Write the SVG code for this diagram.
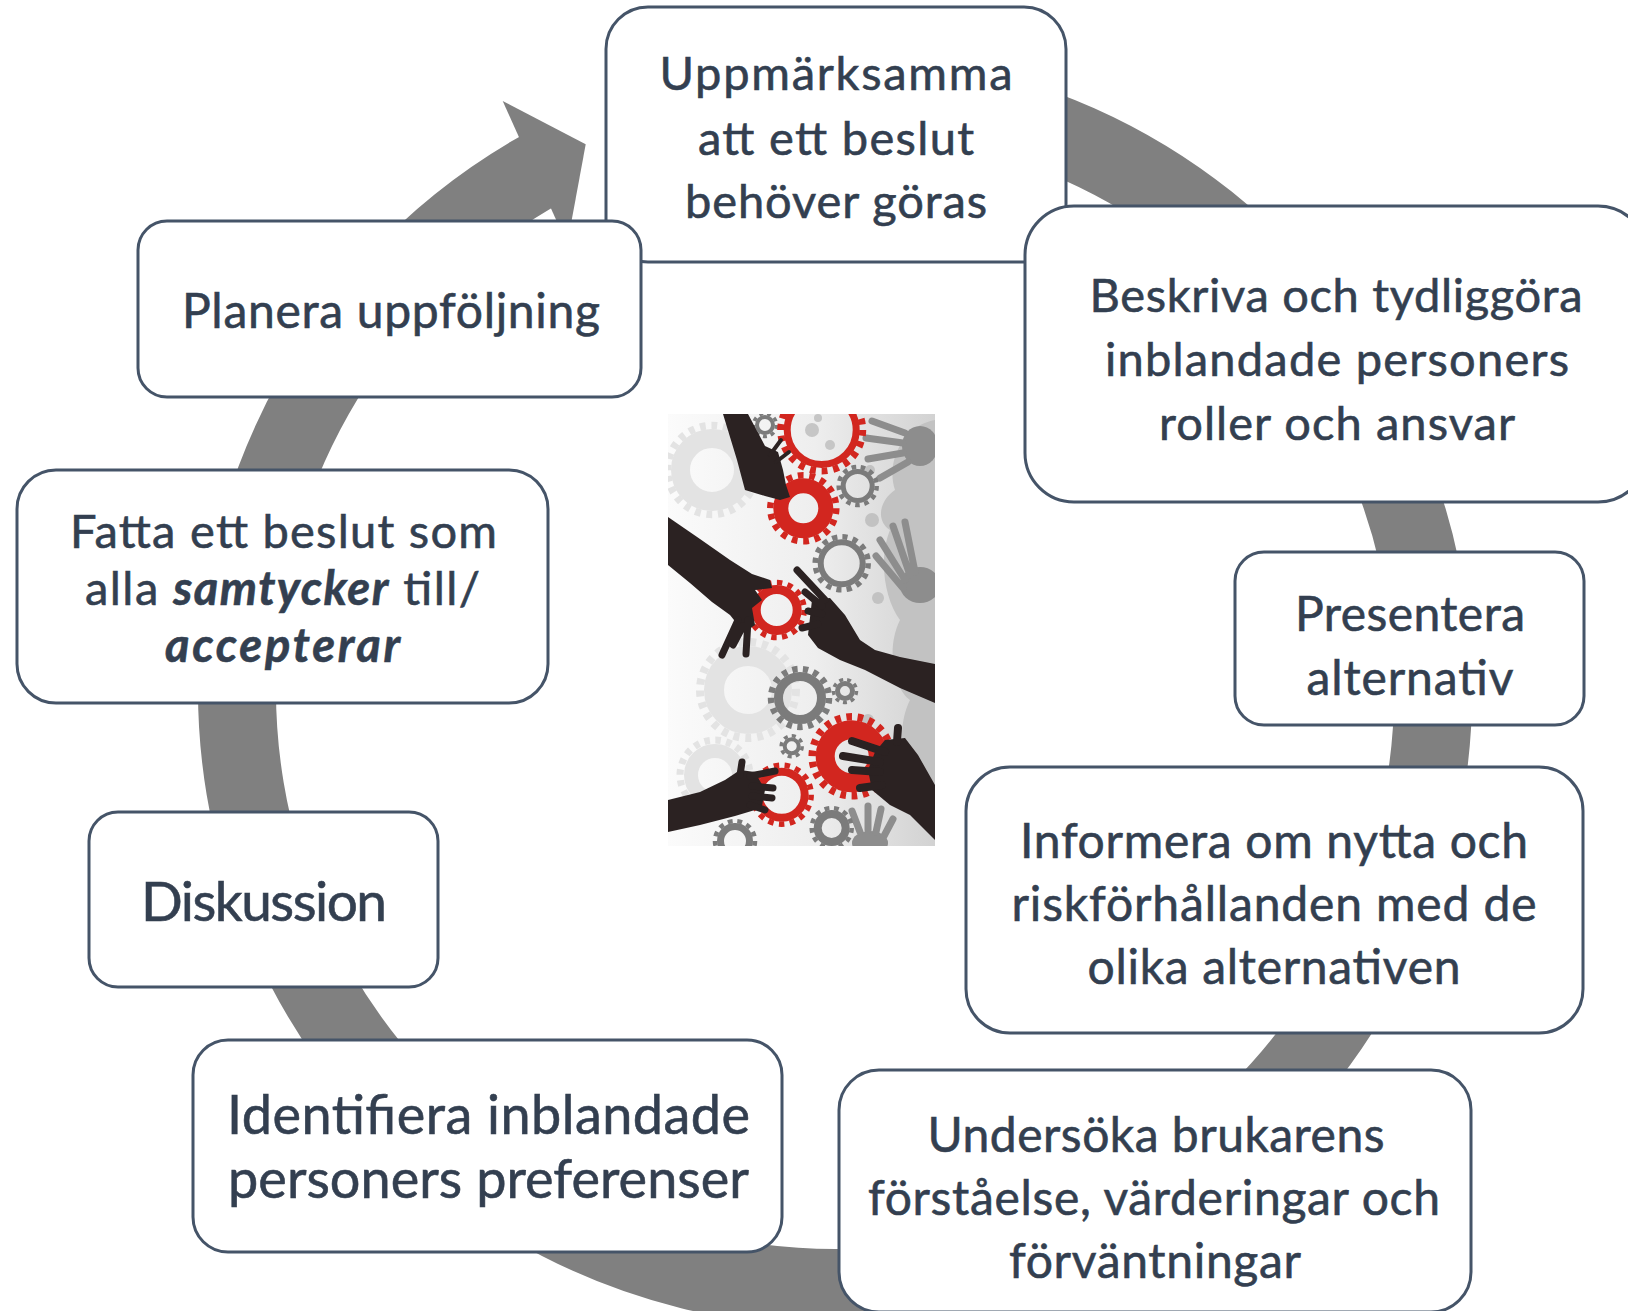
<svg xmlns="http://www.w3.org/2000/svg" width="1628" height="1311" viewBox="0 0 1628 1311">
<defs>
<style>
.box{fill:#ffffff;stroke:#455468;stroke-width:3}
.t{font-family:Lato,"Noto Sans","DejaVu Sans",sans-serif;fill:#333f50;stroke:#333f50;stroke-width:0.6;text-anchor:middle}
.bi{font-weight:bold;font-style:italic}
.ring{fill:none;stroke:#808080;stroke-width:78}
.head{fill:#808080}
.red{fill:none;stroke:#d2261f}
.gry{fill:none;stroke:#7b7b7b}
.fnt{fill:none;stroke:#e3e3e3}
.hand{fill:#2b2222}
.fing{fill:none;stroke:#2b2222;stroke-linecap:round}
.ghand{fill:#8d8d8d}
.gfing{fill:none;stroke:#8d8d8d;stroke-linecap:round;stroke-width:7}
.spl{fill:#c2c2c2}
</style>
<linearGradient id="bg" x1="0" y1="0" x2="1" y2="0">
<stop offset="0" stop-color="#fbfbfb"/>
<stop offset="0.55" stop-color="#eeeeee"/>
<stop offset="1" stop-color="#d2d2d2"/>
</linearGradient>
<clipPath id="imgclip"><rect x="668" y="414" width="267" height="432"/></clipPath>
</defs>
<rect x="0" y="0" width="1628" height="1311" fill="#ffffff"/>

<g id="connectors">
<path class="ring" d="M 814.1 92.4 A 598 598 0 1 1 545.1 167.0"/>
<polygon class="head" points="502.7,101 585.7,144.3 567.2,244.5"/>
</g>

<g id="picture" clip-path="url(#imgclip)">
<rect x="668" y="414" width="267" height="432" fill="url(#bg)"/>
<circle class="fnt" cx="712" cy="470" r="44.5" stroke-width="7.5" stroke-dasharray="5.8 5.8"/>
<circle class="fnt" cx="712" cy="470" r="31.5" stroke-width="19"/>
<circle class="fnt" cx="748" cy="690" r="48" stroke-width="8" stroke-dasharray="6 6"/>
<circle class="fnt" cx="748" cy="690" r="34" stroke-width="20"/>
<circle class="fnt" cx="715" cy="775" r="35" stroke-width="7" stroke-dasharray="5.5 5.5"/>
<circle class="fnt" cx="715" cy="775" r="24" stroke-width="14"/>
<path class="spl" d="M935 420 C905 425 885 460 895 490 C880 500 875 520 890 530 C878 560 885 600 900 620 C885 650 895 690 910 700 C895 730 900 780 935 800 Z"/>
<circle class="spl" cx="872" cy="520" r="7"/>
<circle class="spl" cx="878" cy="598" r="6"/>
<circle class="spl" cx="868" cy="720" r="6"/>
<circle class="spl" cx="885" cy="660" r="5"/>
<circle class="spl" cx="870" cy="470" r="5"/>
<circle fill="#c6c6c6" cx="812" cy="430" r="7"/>
<circle fill="#c6c6c6" cx="830" cy="445" r="5"/>
<circle fill="#c6c6c6" cx="818" cy="418" r="4"/>
<ellipse class="ghand" cx="920" cy="446" rx="18" ry="20"/>
<path class="gfing" d="M905 433 L872 421 M903 443 L866 438 M903 453 L868 459 M908 462 L880 478"/>
<ellipse class="ghand" cx="920" cy="585" rx="20" ry="18"/>
<path class="gfing" d="M915 572 L905 522 M910 575 L893 526 M905 580 L880 540 M903 588 L876 556"/>
<ellipse class="ghand" cx="870" cy="843" rx="18" ry="12"/>
<path class="gfing" d="M860 832 L852 811 M868 830 L868 806 M876 832 L881 809 M884 836 L893 819"/>
<circle class="gry" cx="765" cy="425" r="11.5" stroke-width="3.5" stroke-dasharray="4 4" stroke="#9a9a9a"/>
<circle class="gry" cx="765" cy="425" r="8" stroke-width="4" stroke="#9a9a9a"/>
<circle class="gry" cx="857.7" cy="486" r="19" stroke-width="4.5" stroke-dasharray="4.6 4.6"/>
<circle class="gry" cx="857.7" cy="486" r="14.5" stroke-width="5"/>
<circle class="gry" cx="841.7" cy="563.3" r="26.5" stroke-width="5.5" stroke-dasharray="5.2 5.2"/>
<circle class="gry" cx="841.7" cy="563.3" r="21" stroke-width="6"/>
<circle class="gry" cx="800" cy="698" r="29" stroke-width="6.5" stroke-dasharray="5.36 5.36"/>
<circle class="gry" cx="800" cy="698" r="21.5" stroke-width="9"/>
<circle class="gry" cx="845" cy="691" r="11.5" stroke-width="3.5" stroke-dasharray="4 4"/>
<circle class="gry" cx="845" cy="691" r="7.5" stroke-width="5"/>
<circle class="gry" cx="791.7" cy="746.3" r="10.5" stroke-width="3.5" stroke-dasharray="4.1 4.1"/>
<circle class="gry" cx="791.7" cy="746.3" r="7" stroke-width="4"/>
<circle class="gry" cx="831.7" cy="828" r="20" stroke-width="4.5" stroke-dasharray="4.8 4.8"/>
<circle class="gry" cx="831.7" cy="828" r="14" stroke-width="8"/>
<circle class="gry" cx="735" cy="841" r="20" stroke-width="4.5" stroke-dasharray="4.8 4.8"/>
<circle class="gry" cx="735" cy="841" r="14.5" stroke-width="7"/>
<circle class="red" cx="821.7" cy="430" r="41" stroke-width="7" stroke-dasharray="5.85 5.85"/>
<circle class="red" cx="821.7" cy="430" r="34.5" stroke-width="7"/>
<circle class="red" cx="803.3" cy="508.3" r="33" stroke-width="6.5" stroke-dasharray="5.76 5.76"/>
<circle class="red" cx="803.3" cy="508.3" r="22.5" stroke-width="15"/>
<circle class="red" cx="776.7" cy="610" r="27.5" stroke-width="5.5" stroke-dasharray="5.4 5.4"/>
<circle class="red" cx="776.7" cy="610" r="20.5" stroke-width="9"/>
<circle class="red" cx="851.7" cy="756.3" r="39.5" stroke-width="7.5" stroke-dasharray="5.64 5.64"/>
<circle class="red" cx="851.7" cy="756.3" r="26.5" stroke-width="19"/>
<circle class="red" cx="781.7" cy="794.7" r="29.5" stroke-width="5.5" stroke-dasharray="5.45 5.45"/>
<circle class="red" cx="781.7" cy="794.7" r="23" stroke-width="8"/>
<polygon class="hand" points="723,414 748,414 765,446 778,452 783,470 786,485 790,497 780,500 765,496 745,490 737,460"/>
<path class="fing" stroke-width="4" d="M770 455 L781 440 M776 462 L789 452"/>
<polygon class="hand" points="668,517 700,539 730,560 752,574 770,580 772,588 755,590 762,600 752,608 755,625 745,632 738,625 730,615 712,602 690,583 668,565"/>
<path class="fing" stroke-width="7" d="M748 620 L746 654 M738 620 L722 655 M743 626 L733 645"/>
<polygon class="hand" points="812,600 830,598 845,615 860,640 875,650 900,657 935,664 935,703 900,688 865,670 840,660 818,648 808,635"/>
<path class="fing" stroke-width="7" d="M825 600 L797 570 M822 606 L805 592 M822 614 L808 611 M818 624 L802 628"/>
<polygon class="hand" points="885,740 905,738 918,755 935,785 935,840 910,815 890,805 872,790 868,770 875,752"/>
<path class="fing" stroke-width="8" d="M885 752 L852 741 M880 762 L843 756 M880 772 L852 770 M882 785 L860 788 M897 742 L898 728"/>
<polygon class="hand" points="668,800 700,792 725,780 740,770 755,772 765,790 762,806 755,810 735,816 700,825 668,832"/>
<path class="fing" stroke-width="7" d="M750 776 L775 771 M752 786 L773 788 M752 796 L772 798 M750 805 L765 810 M740 775 L742 762"/>
</g>

<g id="node-uppmarksamma">
<rect class="box" x="606" y="7" width="460" height="255" rx="42"/>
<text class="t" font-size="47"><tspan x="836" y="90" textLength="353">Uppmärksamma</tspan><tspan x="836" y="155" textLength="276">att ett beslut</tspan><tspan x="836" y="218" textLength="302">behöver göras</tspan></text>
</g>

<g id="node-planera">
<rect class="box" x="138" y="221" width="503" height="176" rx="29"/>
<text class="t" font-size="48" x="391" y="328" textLength="418">Planera uppföljning</text>
</g>

<g id="node-beskriva">
<rect class="box" x="1025" y="206" width="622" height="296" rx="49"/>
<text class="t" font-size="47"><tspan x="1336" y="312" textLength="493">Beskriva och tydliggöra</tspan><tspan x="1337" y="376" textLength="464">inblandade personers</tspan><tspan x="1337" y="440" textLength="356">roller och ansvar</tspan></text>
</g>

<g id="node-presentera">
<rect class="box" x="1235" y="552" width="349" height="173" rx="29"/>
<text class="t" font-size="48"><tspan x="1410" y="631" textLength="230">Presentera</tspan><tspan x="1410" y="695" textLength="207">alternativ</tspan></text>
</g>

<g id="node-informera">
<rect class="box" x="966" y="767" width="617" height="266" rx="44"/>
<text class="t" font-size="48"><tspan x="1274" y="858" textLength="508">Informera om nytta och</tspan><tspan x="1274" y="921" textLength="525">riskförhållanden med de</tspan><tspan x="1274" y="984" textLength="373">olika alternativen</tspan></text>
</g>

<g id="node-undersoka">
<rect class="box" x="839" y="1070" width="632" height="242" rx="40"/>
<text class="t" font-size="48"><tspan x="1156" y="1152" textLength="457">Undersöka brukarens</tspan><tspan x="1154" y="1215" textLength="572">förståelse, värderingar och</tspan><tspan x="1155" y="1278" textLength="292">förväntningar</tspan></text>
</g>

<g id="node-identifiera">
<rect class="box" x="193" y="1040" width="589" height="212" rx="35"/>
<text class="t" font-size="54"><tspan x="488.5" y="1134" textLength="523">Identifiera inblandade</tspan><tspan x="488.5" y="1198" textLength="521">personers preferenser</tspan></text>
</g>

<g id="node-diskussion">
<rect class="box" x="89" y="812" width="349" height="175" rx="29"/>
<text class="t" font-size="55" x="264" y="921" textLength="246">Diskussion</text>
</g>

<g id="node-fatta">
<rect class="box" x="17" y="470" width="531" height="233" rx="39"/>
<text class="t" font-size="47" x="283.5" y="548" textLength="427">Fatta ett beslut som</text>
<text class="t" font-size="47" x="282.5" y="605" textLength="395">alla <tspan class="bi">samtycker</tspan> till/</text>
<text class="t bi" font-size="47" x="282.5" y="662" textLength="235">accepterar</text>
</g>
</svg>
